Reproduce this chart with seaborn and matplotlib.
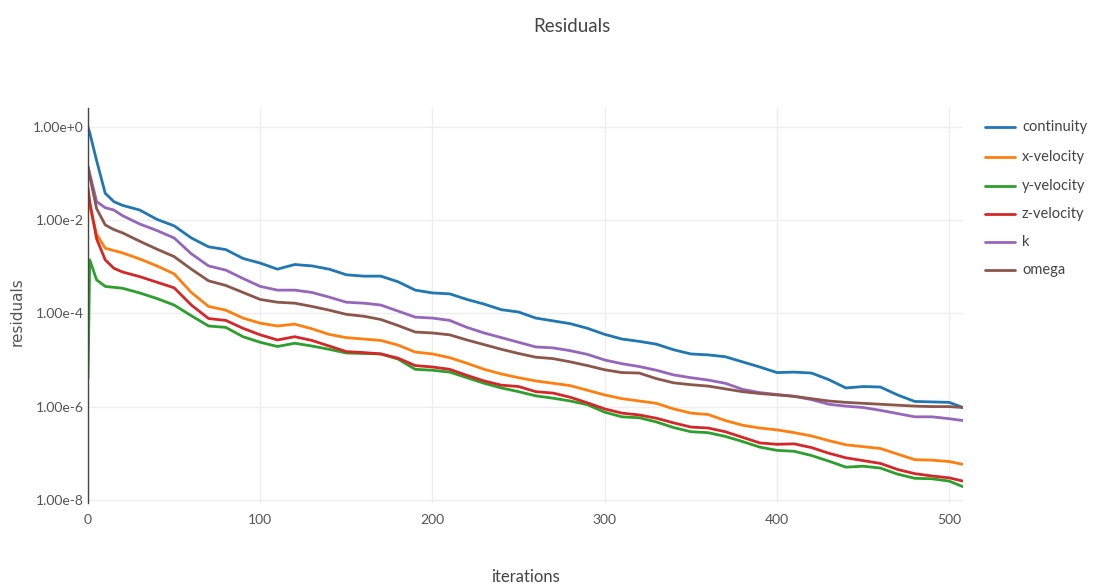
import numpy as np
import pandas as pd
import matplotlib
matplotlib.use("Agg")
import matplotlib.pyplot as plt
import seaborn as sns

# Solver residual history (log10 of each residual) sampled on a common iteration grid
iterations = [0, 1, 5, 10, 15, 20] + list(range(30, 501, 10)) + [508]

continuity_log10 = [0.0, -0.12, -0.72, -1.42, -1.6, -1.68, -1.78, -1.98, -2.12, -2.38,
                    -2.57, -2.63, -2.82, -2.92, -3.05, -2.95, -2.98, -3.05, -3.17, -3.2,
                    -3.2, -3.32, -3.5, -3.56, -3.58, -3.7, -3.8, -3.92, -3.97, -4.1,
                    -4.16, -4.22, -4.32, -4.45, -4.55, -4.6, -4.66, -4.78, -4.87, -4.89,
                    -4.93, -5.04, -5.15, -5.27, -5.26, -5.28, -5.42, -5.6, -5.57, -5.58,
                    -5.75, -5.89, -5.9, -5.91, -6.02]
x_velocity_log10 = [-1.45, -1.7, -2.3, -2.6, -2.65, -2.7, -2.83, -2.98, -3.15, -3.55,
                    -3.85, -3.93, -4.1, -4.21, -4.27, -4.23, -4.33, -4.45, -4.52, -4.55,
                    -4.58, -4.68, -4.83, -4.87, -4.95, -5.07, -5.2, -5.3, -5.38, -5.45,
                    -5.5, -5.55, -5.65, -5.75, -5.83, -5.88, -5.93, -6.05, -6.14, -6.17,
                    -6.3, -6.4, -6.46, -6.5, -6.56, -6.63, -6.73, -6.82, -6.86, -6.9,
                    -7.02, -7.14, -7.15, -7.18, -7.24]
y_velocity_log10 = [-5.4, -2.85, -3.28, -3.42, -3.44, -3.46, -3.56, -3.68, -3.82, -4.05,
                    -4.27, -4.3, -4.5, -4.62, -4.71, -4.64, -4.7, -4.77, -4.85, -4.86,
                    -4.87, -4.98, -5.2, -5.22, -5.26, -5.38, -5.5, -5.6, -5.68, -5.77,
                    -5.82, -5.88, -5.96, -6.12, -6.22, -6.24, -6.33, -6.45, -6.54, -6.56,
                    -6.64, -6.75, -6.87, -6.94, -6.96, -7.05, -7.17, -7.3, -7.28, -7.32,
                    -7.45, -7.54, -7.55, -7.6, -7.72]
z_velocity_log10 = [-1.3, -1.6, -2.4, -2.85, -3.03, -3.11, -3.21, -3.33, -3.45, -3.82,
                    -4.11, -4.15, -4.32, -4.46, -4.57, -4.5, -4.58, -4.7, -4.82, -4.84,
                    -4.87, -4.96, -5.12, -5.15, -5.2, -5.33, -5.45, -5.54, -5.57, -5.68,
                    -5.71, -5.8, -5.92, -6.05, -6.14, -6.18, -6.25, -6.35, -6.44, -6.46,
                    -6.54, -6.66, -6.78, -6.81, -6.8, -6.88, -7.0, -7.1, -7.16, -7.22,
                    -7.35, -7.44, -7.49, -7.53, -7.6]
k_log10 = [-0.85, -1.0, -1.6, -1.73, -1.78, -1.9, -2.08, -2.22, -2.38, -2.72,
           -2.98, -3.07, -3.25, -3.42, -3.5, -3.5, -3.55, -3.65, -3.76, -3.78,
           -3.82, -3.95, -4.08, -4.1, -4.15, -4.3, -4.42, -4.52, -4.62, -4.72,
           -4.74, -4.8, -4.88, -5.0, -5.08, -5.14, -5.22, -5.32, -5.38, -5.43,
           -5.5, -5.63, -5.7, -5.74, -5.78, -5.85, -5.95, -5.99, -6.02, -6.08,
           -6.15, -6.22, -6.22, -6.26, -6.3]
omega_log10 = [-0.85, -1.05, -1.75, -2.1, -2.2, -2.27, -2.45, -2.62, -2.78, -3.05,
               -3.3, -3.4, -3.55, -3.7, -3.76, -3.78, -3.85, -3.93, -4.02, -4.06,
               -4.13, -4.26, -4.4, -4.42, -4.46, -4.57, -4.67, -4.77, -4.86, -4.94,
               -4.97, -5.04, -5.12, -5.21, -5.27, -5.28, -5.4, -5.49, -5.53, -5.56,
               -5.62, -5.68, -5.72, -5.75, -5.78, -5.83, -5.88, -5.91, -5.93, -5.95,
               -5.97, -5.99, -6.0, -6.0, -6.02]

series_names = ["continuity", "x-velocity", "y-velocity", "z-velocity", "k", "omega"]
series_log10 = [continuity_log10, x_velocity_log10, y_velocity_log10,
                z_velocity_log10, k_log10, omega_log10]
colors = ["#1f77b4", "#ff7f0e", "#2ca02c", "#d62728", "#9467bd", "#8c564b"]

y_tick_values = [1e0, 1e-2, 1e-4, 1e-6, 1e-8]
y_tick_labels = ["1.00e+0", "1.00e-2", "1.00e-4", "1.00e-6", "1.00e-8"]
x_tick_values = [0, 100, 200, 300, 400, 500]

frames = []
for name, logs in zip(series_names, series_log10):
    frames.append(pd.DataFrame({
        "iterations": iterations,
        "residuals": 10.0 ** np.asarray(logs),
        "series": name,
    }))
df = pd.concat(frames, ignore_index=True)

sns.set_theme(style="white")
plt.rcParams["font.family"] = ["Lato", "DejaVu Sans"]

W, H = 1094, 587
fig = plt.figure(figsize=(W / 100, H / 100), dpi=100)
left, right, top, bottom = 88, 963, 108, 503
ax = fig.add_axes([left / W, 1 - bottom / H, (right - left) / W, (bottom - top) / H])

sns.lineplot(data=df, x="iterations", y="residuals", hue="series",
             hue_order=series_names, palette=colors, linewidth=2.0,
             ax=ax, legend=False, sort=False)

ax.set_yscale("log")
ax.set_ylim(10 ** -8.07, 10 ** 0.41)
ax.set_xlim(0, 508)
ax.set_yticks(y_tick_values)
ax.set_yticklabels(y_tick_labels)
ax.set_xticks(x_tick_values)
ax.minorticks_off()
ax.grid(True, color="#eeeeee", linewidth=1.0)
ax.set_axisbelow(True)
for s in ["top", "right", "bottom"]:
    ax.spines[s].set_visible(False)
ax.spines["left"].set_color("#444444")
ax.spines["left"].set_linewidth(1.0)
ax.tick_params(axis="both", length=0, labelsize=10, colors="#555555")
ax.tick_params(axis="y", pad=3)
ax.tick_params(axis="x", pad=8)
ax.set_xlabel("")
ax.set_ylabel("")

fig.text(572 / W, 1 - 27 / H, "Residuals", ha="center", va="center",
         fontsize=13.5, color="#444444")
fig.text(525 / W, 1 - 577 / H, "iterations", ha="center", va="center",
         fontsize=12, color="#444444")
fig.text(17 / W, 1 - 312 / H, "residuals", ha="center", va="center",
         rotation=90, fontsize=11, color="#555555", family=["DejaVu Sans"])

# legend drawn in figure coordinates on the right
row_y = [127, 157, 186, 214, 242, 270]
for name, col, yy in zip(series_names, colors, row_y):
    fy = 1 - yy / H
    fig.add_artist(plt.Line2D([985 / W, 1015 / W], [fy, fy], color=col,
                              linewidth=2.0, transform=fig.transFigure))
    fig.text(1022 / W, fy, name, ha="left", va="center", fontsize=10.5,
             color="#444444")

fig.savefig("out.png", dpi=100, facecolor="white")
